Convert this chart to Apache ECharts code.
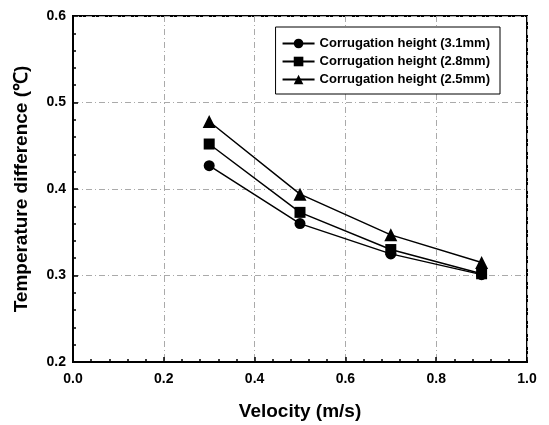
<!DOCTYPE html>
<html>
<head>
    <meta charset="utf-8">
    <title>ECharts</title>
    <script src="https://cdn.jsdelivr.net/npm/echarts@6/dist/echarts.min.js"></script>
    <style>
        html, body { margin: 0; padding: 0; background: #fff; }
    </style>
</head>
<body>
    <div id="main" style="width: 549px;height:425px;"></div>

    <script type="text/javascript">
        var velocity = [0.3, 0.5, 0.7, 0.9];
        var h31 = [0.427, 0.360, 0.325, 0.301];
        var h28 = [0.452, 0.373, 0.330, 0.302];
        var h25 = [0.478, 0.394, 0.347, 0.315];
        var seriesNames = ['Corrugation height (3.1mm)', 'Corrugation height (2.8mm)', 'Corrugation height (2.5mm)'];
        var symbols = ['circle', 'rect', 'triangle'];

        var pairs = function (ys) {
            return velocity.map(function (x, i) { return [x, ys[i]]; });
        };

        var font = 'Liberation Sans, Arial, sans-serif';
        var myChart = echarts.init(document.getElementById('main'));

        var makeSeries = function (i, ys) {
            return {
                name: seriesNames[i],
                type: 'line',
                data: pairs(ys),
                symbol: symbols[i],
                symbolSize: i === 2 ? 13 : 11,
                lineStyle: { color: '#000', width: 1.5 },
                itemStyle: { color: '#000' },
                animation: false
            };
        };

        var option = {
            grid: {
                left: 73, right: 22, top: 16, bottom: 63,
                outerBoundsMode: 'none',
                containLabel: false,
                show: true,
                borderColor: '#000',
                borderWidth: 2
            },
            legend: {
                orient: 'vertical',
                right: 49,
                top: 27,
                padding: [10, 10, 8, 6],
                itemGap: 5,
                itemWidth: 32,
                itemHeight: 12,
                borderColor: '#000',
                borderWidth: 1,
                backgroundColor: '#fff',
                textStyle: { fontFamily: font, fontWeight: 'bold', fontSize: 13, color: '#000' },
                data: seriesNames
            },
            xAxis: {
                type: 'value',
                min: 0,
                max: 1,
                interval: 0.2,
                name: 'Velocity (m/s)',
                nameLocation: 'middle',
                nameGap: 40,
                nameTextStyle: { fontFamily: font, fontWeight: 'bold', fontSize: 19, color: '#000' },
                axisLine: { lineStyle: { color: '#000', width: 2 } },
                axisTick: { inside: true, length: 5, lineStyle: { color: '#000', width: 1.5 } },
                minorTick: { show: true, splitNumber: 5, length: 3, lineStyle: { color: '#000', width: 1.5 } },
                axisLabel: {
                    fontFamily: font, fontWeight: 'bold', fontSize: 14, color: '#000', margin: 10,
                    formatter: function (v) { return v.toFixed(1); }
                },
                splitLine: { show: true, lineStyle: { color: '#aaa', type: [6, 3, 1, 3], width: 1 } }
            },
            yAxis: {
                type: 'value',
                min: 0.2,
                max: 0.6,
                interval: 0.1,
                name: 'Temperature difference (\u2103)',
                nameLocation: 'middle',
                nameGap: 42,
                nameTextStyle: { fontFamily: font, fontWeight: 'bold', fontSize: 19, color: '#000' },
                axisLine: { lineStyle: { color: '#000', width: 2 } },
                axisTick: { inside: true, length: 5, lineStyle: { color: '#000', width: 1.5 } },
                minorTick: { show: true, splitNumber: 5, length: 3, lineStyle: { color: '#000', width: 1.5 } },
                axisLabel: {
                    fontFamily: font, fontWeight: 'bold', fontSize: 14, color: '#000', margin: 7,
                    formatter: function (v) { return v.toFixed(1); }
                },
                splitLine: { show: true, lineStyle: { color: '#aaa', type: [6, 3, 1, 3], width: 1 } }
            },
            series: [makeSeries(0, h31), makeSeries(1, h28), makeSeries(2, h25)]
        };

        myChart.setOption(option);
    </script>
</body>
</html>
